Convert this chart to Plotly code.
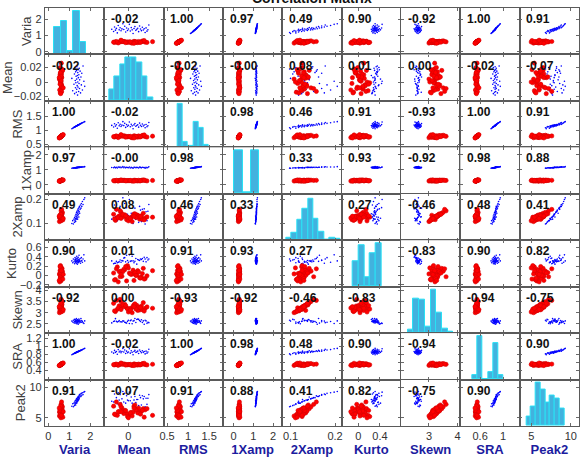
import plotly.graph_objects as go
from plotly.subplots import make_subplots

names = ["Varia", "Mean", "RMS", "1Xamp", "2Xamp", "Kurto", "Skewn", "SRA", "Peak2"]

# ---------------- red group ----------------
red_varia = [0.55, 0.60, 0.58, 0.63, 0.57, 0.61, 0.65, 0.59, 0.62, 0.56,
             0.60, 0.64, 0.58, 0.61, 0.53, 0.67, 0.59, 0.62, 0.60, 0.57,
             0.63, 0.58, 0.61, 0.66, 0.59, 0.54, 0.62, 0.60, 0.57, 0.64,
             0.61, 0.58, 0.63, 0.60, 0.56, 0.69, 0.59, 0.62, 0.52, 0.71]
red_mean = [0.003, -0.010, 0.012, -0.004, 0.008, -0.014, 0.016, 0.001, -0.007, 0.010,
            -0.002, 0.006, -0.012, 0.014, 0.004, -0.008, 0.018, -0.005, 0.009, -0.015,
            0.011, -0.001, -0.009, 0.015, 0.005, -0.011, 0.007, 0.000, 0.020, -0.006,
            0.002, 0.013, -0.013, 0.008, -0.003, 0.017, -0.016, 0.026, 0.006, -0.008]
red_rms = [0.742, 0.775, 0.762, 0.794, 0.755, 0.781, 0.806, 0.768, 0.787, 0.748,
           0.775, 0.800, 0.762, 0.781, 0.728, 0.819, 0.768, 0.787, 0.775, 0.755,
           0.794, 0.762, 0.781, 0.812, 0.768, 0.735, 0.787, 0.775, 0.755, 0.800,
           0.781, 0.762, 0.794, 0.775, 0.748, 0.831, 0.768, 0.787, 0.721, 0.843]
red_1xamp = [0.27, 0.29, 0.26, 0.30, 0.28, 0.27, 0.31, 0.28, 0.29, 0.26,
             0.28, 0.30, 0.27, 0.29, 0.25, 0.31, 0.28, 0.29, 0.27, 0.26,
             0.30, 0.28, 0.29, 0.31, 0.27, 0.25, 0.30, 0.28, 0.26, 0.30,
             0.29, 0.27, 0.30, 0.28, 0.26, 0.32, 0.28, 0.29, 0.24, 0.32]
red_2xamp = [0.124, 0.131, 0.118, 0.136, 0.127, 0.113, 0.142, 0.121, 0.129, 0.134,
             0.116, 0.139, 0.125, 0.131, 0.108, 0.146, 0.122, 0.128, 0.135, 0.119,
             0.130, 0.126, 0.152, 0.117, 0.133, 0.123, 0.140, 0.111, 0.127, 0.137,
             0.120, 0.129, 0.158, 0.125, 0.132, 0.115, 0.138, 0.126, 0.130, 0.121]
red_kurto = [0.02, 0.08, -0.05, 0.12, 0.00, -0.09, 0.15, 0.05, -0.02, 0.10,
             -0.12, 0.06, 0.18, -0.04, 0.03, 0.09, -0.07, 0.13, 0.01, -0.10,
             0.07, 0.21, -0.03, 0.04, 0.11, -0.14, 0.06, 0.16, -0.01, 0.08,
             0.03, -0.06, 0.14, 0.00, 0.19, -0.08, 0.05, 0.10, -0.11, 0.02]
red_skewn = [3.20, 3.31, 3.12, 3.38, 3.25, 3.05, 3.45, 3.18, 3.28, 3.10,
             3.22, 3.35, 3.15, 3.30, 3.00, 3.50, 3.19, 3.27, 3.33, 3.08,
             3.24, 3.16, 3.60, 3.13, 3.29, 3.21, 3.40, 3.03, 3.26, 3.36,
             3.11, 3.23, 3.55, 3.17, 3.32, 3.07, 3.42, 3.20, 3.27, 3.14]
red_sra = [0.522, 0.540, 0.533, 0.551, 0.530, 0.544, 0.558, 0.537, 0.547, 0.526,
           0.540, 0.554, 0.533, 0.544, 0.516, 0.565, 0.537, 0.547, 0.540, 0.530,
           0.551, 0.533, 0.544, 0.561, 0.537, 0.519, 0.547, 0.540, 0.530, 0.554,
           0.544, 0.533, 0.551, 0.540, 0.526, 0.572, 0.537, 0.547, 0.512, 0.579]
red_peak2 = [5.9, 6.0, 5.9, 6.2, 6.4, 5.5, 6.5, 5.5, 6.6, 5.8,
             5.7, 6.9, 5.4, 6.1, 5.3, 6.8, 6.3, 5.7, 6.3, 5.6,
             6.6, 5.2, 7.2, 6.2, 5.9, 6.0, 7.1, 5.0, 6.5, 6.1,
             5.8, 5.6, 7.6, 6.3, 6.2, 5.1, 6.9, 5.4, 6.6, 6.0]

# ---------------- blue group ----------------
blue_varia = [1.12, 1.16, 1.19, 1.22, 1.24, 1.25, 1.27, 1.28, 1.29, 1.30,
              1.31, 1.32, 1.33, 1.34, 1.35, 1.35, 1.36, 1.37, 1.38, 1.39,
              1.40, 1.40, 1.41, 1.42, 1.43, 1.44, 1.45, 1.46, 1.47, 1.48,
              1.49, 1.51, 1.53, 1.55, 1.57, 1.59, 1.62, 1.65, 1.69, 1.73]
blue_mean = [0.005, -0.012, 0.018, -0.003, 0.011, -0.016, 0.020, 0.002, -0.008, 0.014,
             -0.001, 0.008, -0.014, 0.016, 0.004, -0.010, 0.021, -0.005, 0.009, -0.018,
             0.013, 0.000, -0.007, 0.017, 0.006, -0.013, 0.010, -0.002, 0.019, -0.009,
             0.003, 0.015, -0.015, 0.007, -0.004, 0.012, -0.011, 0.022, 0.001, -0.006]
blue_rms = [1.058, 1.077, 1.091, 1.105, 1.114, 1.118, 1.127, 1.131, 1.136, 1.140,
            1.145, 1.149, 1.153, 1.158, 1.162, 1.162, 1.166, 1.170, 1.175, 1.179,
            1.183, 1.183, 1.187, 1.192, 1.196, 1.200, 1.204, 1.208, 1.212, 1.217,
            1.221, 1.229, 1.237, 1.245, 1.253, 1.261, 1.273, 1.285, 1.300, 1.315]
blue_1xamp = [1.10, 1.12, 1.11, 1.13, 1.12, 1.14, 1.13, 1.12, 1.14, 1.13,
              1.15, 1.14, 1.13, 1.15, 1.14, 1.16, 1.15, 1.14, 1.16, 1.15,
              1.16, 1.14, 1.17, 1.15, 1.16, 1.17, 1.15, 1.17, 1.16, 1.18,
              1.16, 1.17, 1.18, 1.17, 1.19, 1.18, 1.19, 1.20, 1.19, 1.21]
blue_2xamp = [0.100, 0.112, 0.098, 0.118, 0.105, 0.125, 0.112, 0.131, 0.120, 0.108,
              0.138, 0.117, 0.128, 0.145, 0.122, 0.135, 0.150, 0.126, 0.140, 0.118,
              0.155, 0.132, 0.146, 0.160, 0.138, 0.152, 0.127, 0.165, 0.148, 0.170,
              0.142, 0.158, 0.176, 0.163, 0.182, 0.170, 0.190, 0.178, 0.198, 0.205]
blue_kurto = [0.31, 0.27, 0.35, 0.29, 0.33, 0.25, 0.38, 0.30, 0.28, 0.34,
              0.32, 0.36, 0.26, 0.30, 0.41, 0.29, 0.33, 0.37, 0.24, 0.31,
              0.35, 0.28, 0.32, 0.39, 0.27, 0.30, 0.34, 0.43, 0.29, 0.33,
              0.31, 0.36, 0.26, 0.30, 0.38, 0.32, 0.28, 0.35, 0.44, 0.31]
blue_skewn = [2.62, 2.58, 2.66, 2.55, 2.70, 2.60, 2.52, 2.64, 2.59, 2.68,
              2.61, 2.56, 2.73, 2.63, 2.50, 2.65, 2.57, 2.62, 2.69, 2.54,
              2.60, 2.66, 2.58, 2.48, 2.64, 2.61, 2.71, 2.53, 2.63, 2.59,
              2.67, 2.56, 2.62, 2.74, 2.57, 2.65, 2.60, 2.55, 2.51, 2.63]
blue_sra = [0.79, 0.80, 0.81, 0.82, 0.82, 0.83, 0.83, 0.83, 0.84, 0.84,
            0.84, 0.85, 0.85, 0.85, 0.85, 0.86, 0.86, 0.86, 0.86, 0.86,
            0.87, 0.86, 0.87, 0.87, 0.87, 0.87, 0.88, 0.88, 0.88, 0.88,
            0.89, 0.89, 0.90, 0.90, 0.91, 0.91, 0.92, 0.93, 0.94, 0.95]
blue_peak2 = [6.9, 7.3, 6.8, 7.4, 7.0, 7.6, 7.2, 7.8, 7.4, 7.1,
              7.9, 7.5, 7.7, 8.1, 7.4, 7.9, 8.2, 7.6, 8.0, 7.7,
              8.3, 7.8, 8.1, 8.5, 7.9, 8.3, 8.0, 8.6, 8.2, 8.8,
              8.4, 8.6, 8.9, 8.5, 9.0, 8.7, 9.1, 8.8, 9.2, 9.3]

# ---------------- correlation coefficients (as printed) ----------------
corr_varia = [1.00, -0.02, 1.00, 0.97, 0.49, 0.90, -0.92, 1.00, 0.91]
corr_mean = [-0.02, 1.00, -0.02, -0.00, 0.08, 0.01, 0.00, -0.02, -0.07]
corr_rms = [1.00, -0.02, 1.00, 0.98, 0.46, 0.91, -0.93, 1.00, 0.91]
corr_1xamp = [0.97, -0.00, 0.98, 1.00, 0.33, 0.93, -0.92, 0.98, 0.88]
corr_2xamp = [0.49, 0.08, 0.46, 0.33, 1.00, 0.27, -0.46, 0.48, 0.41]
corr_kurto = [0.90, 0.01, 0.91, 0.93, 0.27, 1.00, -0.83, 0.90, 0.82]
corr_skewn = [-0.92, 0.00, -0.93, -0.92, -0.46, -0.83, 1.00, -0.94, -0.75]
corr_sra = [1.00, -0.02, 1.00, 0.98, 0.48, 0.90, -0.94, 1.00, 0.90]
corr_peak2 = [0.91, -0.07, 0.91, 0.88, 0.41, 0.82, -0.75, 0.90, 1.00]

# ---------------- histogram bins (start, width, relative counts) ----------------
hist_start = [0.28, -0.0207, 0.75, 0.05, 0.09, -0.108, 2.252, 0.468, 4.375]
hist_width = [0.304, 0.00588, 0.124, 0.42, 0.01222, 0.108, 0.201, 0.089, 0.6]
hist_varia = [0.625, 0.78, 0.09, 1.0, 0.28]
hist_mean = [0.26, 0.57, 0.85, 1.0, 1.0, 0.88, 0.57, 0.07]
hist_rms = [1.0, 0.13, 0.03, 0.58, 0.45, 0.05]
hist_1xamp = [1.0, 0.03, 1.0]
hist_2xamp = [0.05, 0.17, 0.47, 0.72, 0.95, 0.5, 0.2, 0.0, 0.05, 0.04]
hist_kurto = [0.59, 0.96, 0.22, 0.77, 1.0]
hist_skewn = [0.08, 0.8, 0.76, 0.15, 1.0, 0.48, 0.11, 0.04]
hist_sra = [0.11, 1.0, 0.0, 0.18, 0.83, 0.11]
hist_peak2 = [0.21, 0.45, 1.0, 0.85, 0.55, 0.7, 0.63, 0.4]

# ---------------- axis ticks ----------------
xtick_vals = [[0, 1, 2], [0], [0.5, 1, 1.5], [0, 1, 2], [0.1, 0.2], [0, 0.4],
              [3, 4], [0.6, 1], [5, 10]]
ytick_vals = [[0, 1, 2], [-0.02, 0, 0.02], [0.5, 1, 1.5], [0, 1, 2], [0.1, 0.2],
              [-0.2, 0, 0.2, 0.4, 0.6], [2.5, 3, 3.5, 4], [0.4, 0.6, 0.8, 1, 1.2], [5, 10]]
title_text = "Correlation Matrix"

# ---------------- styling ----------------
x_ranges = [[-0.155, 2.66], [-0.026, 0.038], [0.42, 1.83], [-0.53, 2.47],
            [0.0816, 0.2149], [-0.31, 0.79], [2.02, 4.10], [0.257, 1.286], [3.54, 11.04]]
y_ranges = [[-0.17, 2.70], [-0.026, 0.038], [0.38, 2.07], [-0.6, 2.5],
            [0.032, 0.2216], [-0.243, 0.754], [2.08, 4.17], [0.157, 1.34], [3.66, 11.26]]

red_cols = [red_varia, red_mean, red_rms, red_1xamp, red_2xamp, red_kurto, red_skewn, red_sra, red_peak2]
blue_cols = [blue_varia, blue_mean, blue_rms, blue_1xamp, blue_2xamp, blue_kurto, blue_skewn, blue_sra, blue_peak2]
corr = [corr_varia, corr_mean, corr_rms, corr_1xamp, corr_2xamp, corr_kurto, corr_skewn, corr_sra, corr_peak2]
hists = [hist_varia, hist_mean, hist_rms, hist_1xamp, hist_2xamp, hist_kurto, hist_skewn, hist_sra, hist_peak2]

FONT = "Liberation Sans, Arial, sans-serif"
n = len(names)
fig = make_subplots(rows=n, cols=n, horizontal_spacing=0, vertical_spacing=0)

annotations = []
for i in range(n):
    for j in range(n):
        r, c = i + 1, j + 1
        if i == j:
            w = hist_width[i]
            cnt = hists[i]
            centers = [hist_start[i] + w * (k + 0.5) for k in range(len(cnt))]
            span = y_ranges[i][1] - y_ranges[i][0]
            heights = [v * 0.935 * span for v in cnt]
            fig.add_trace(go.Bar(x=centers, y=heights, base=y_ranges[i][0], width=w,
                                 marker=dict(color="rgb(66,178,222)",
                                             line=dict(color="rgb(40,225,245)", width=1)),
                                 showlegend=False, hoverinfo="skip"), row=r, col=c)
        else:
            fig.add_trace(go.Scatter(x=blue_cols[j], y=blue_cols[i], mode="markers",
                                     marker=dict(size=1.6, color="rgb(0,0,255)"),
                                     showlegend=False, hoverinfo="skip"), row=r, col=c)
            fig.add_trace(go.Scatter(x=red_cols[j], y=red_cols[i], mode="markers",
                                     marker=dict(size=4.2, color="rgb(255,0,0)",
                                                 line=dict(color="rgb(215,0,0)", width=0.6)),
                                     showlegend=False, hoverinfo="skip"), row=r, col=c)
            k = i * n + j + 1
            ref = "x" if k == 1 else f"x{k}"
            yref = "y" if k == 1 else f"y{k}"
            annotations.append(dict(text=f"<b>{corr[i][j]:.2f}</b>", xref=f"{ref} domain",
                                    yref=f"{yref} domain", x=0.08, y=0.76, xanchor="left",
                                    yanchor="middle", showarrow=False,
                                    font=dict(family=FONT, size=12, color="#111111")))

for i in range(n):
    for j in range(n):
        k = i * n + j + 1
        xa = "xaxis" if k == 1 else f"xaxis{k}"
        ya = "yaxis" if k == 1 else f"yaxis{k}"
        common = dict(showgrid=False, zeroline=False, showline=True, linecolor="#5a5a5a",
                      linewidth=1.3, mirror="ticks", ticks="inside", ticklen=2.5,
                      tickcolor="#6a6a6a", tickwidth=1,
                      tickfont=dict(family=FONT, size=11, color="#333333"))
        fig.layout[xa].update(range=x_ranges[j], tickvals=xtick_vals[j],
                              showticklabels=(i == n - 1), **common)
        fig.layout[ya].update(range=y_ranges[i], tickvals=ytick_vals[i],
                              showticklabels=(j == 0), **common)
        if i == n - 1:
            fig.layout[xa].title = dict(text=f"<b>{names[j]}</b>", standoff=3,
                                        font=dict(family=FONT, size=13, color="#1c1ca0"))
        if j == 0:
            fig.layout[ya].title = dict(text=names[i], standoff=0,
                                        font=dict(family=FONT, size=13, color="#404040"))

annotations.append(dict(text=f"<b>{title_text}</b>", xref="paper", yref="paper",
                        x=0.5, y=1.024, xanchor="center", yanchor="middle", showarrow=False,
                        font=dict(family=FONT, size=14, color="#111111")))

fig.update_layout(width=585, height=466, margin=dict(l=40, r=5, t=8, b=40),
                  paper_bgcolor="white", plot_bgcolor="white", annotations=annotations,
                  showlegend=False, bargap=0)

fig.write_html("out.html")
